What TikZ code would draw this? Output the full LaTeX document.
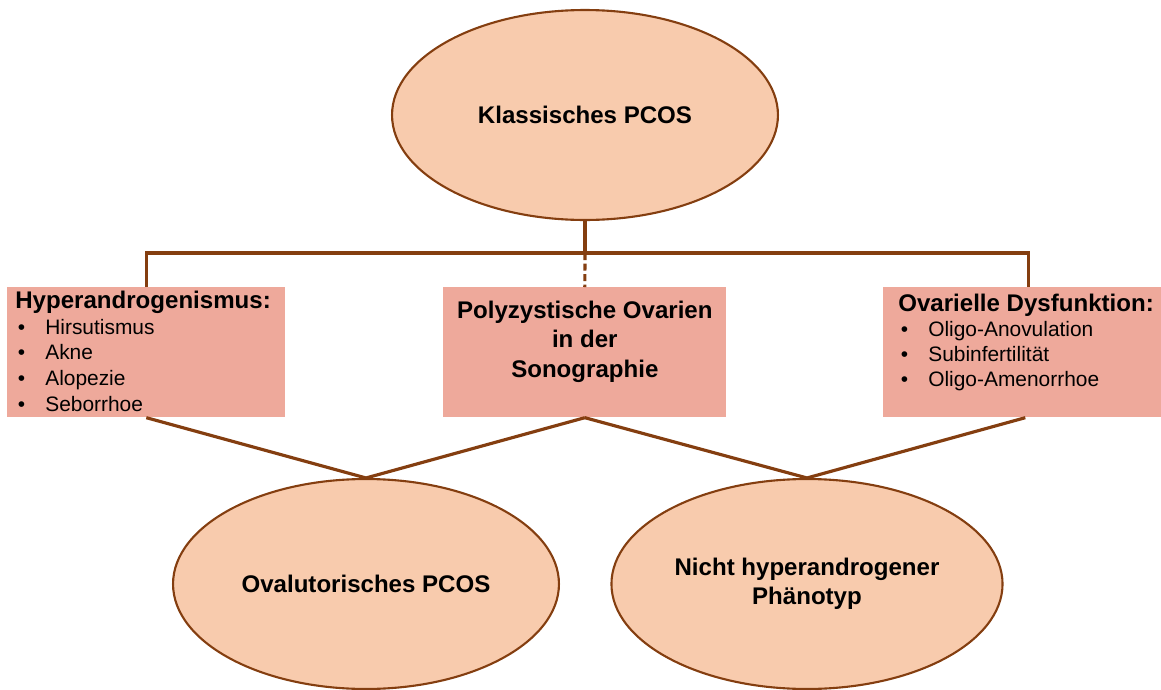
\documentclass[tikz,border=0pt]{standalone}
\usepackage{fontspec}
\setmainfont{Liberation Sans}
\usetikzlibrary{shapes.geometric}

\definecolor{linie}{RGB}{132,62,16}
\definecolor{ovalfarbe}{RGB}{248,203,173}
\definecolor{kastenfarbe}{RGB}{238,169,155}

\newcommand{\punkt}[1]{\par\hspace*{0.05cm}\makebox[0.55cm][l]{\textbullet}#1}

\begin{document}
\begin{tikzpicture}[x = 0.02cm, y = -0.02cm,
            oval/.style = {ellipse, draw = linie, line width = 1.2pt, fill = ovalfarbe,
                minimum width = 7.72cm, minimum height = 4.2cm, align = center,
                font = \fontsize{13.7}{16.7}\selectfont\bfseries},
            kasten/.style = {rectangle, fill = kastenfarbe, inner sep = 0pt, anchor = north west,
                font = \fontsize{11.9}{14.7}\selectfont},
            verbindung/.style = {draw = linie, line width = 1.8pt}]
            \useasboundingbox (0,0) rectangle (1161,690);

            \node[oval] (klassisch) at (585,115) {Klassisches PCOS};

            \node[kasten] (hyper) at (7,287) {\parbox[c][2.6cm][t]{5.56cm}{%
                \leftskip=0.16cm \baselineskip=0.515cm
                \rule{0pt}{0.42cm}{\fontsize{13.7}{16.7}\selectfont\bfseries Hyperandrogenismus:}
                \punkt{Hirsutismus}
                \punkt{Akne}
                \punkt{Alopezie}
                \punkt{Seborrhoe}}};
            \node[kasten] (poly) at (443,287) {\parbox[c][2.6cm][t]{5.66cm}{\centering
                \fontsize{13.7}{16.7}\selectfont\bfseries \baselineskip=0.59cm
                \rule{0pt}{0.62cm}Polyzystische Ovarien\\ in der\\ Sonographie}};
            \node[kasten] (ovar) at (883,287) {\parbox[c][2.6cm][t]{5.56cm}{%
                \leftskip=0.3cm \baselineskip=0.5cm
                \rule{0pt}{0.48cm}{\fontsize{13.7}{16.7}\selectfont\bfseries Ovarielle Dysfunktion:}
                \punkt{Oligo-Anovulation}
                \punkt{Subinfertilität}
                \punkt{Oligo-Amenorrhoe}}};

            \node[oval] (ovalutor) at (366,584) {Ovalutorisches PCOS};
            \node[oval, minimum width = 7.8cm] (nicht) at (807,584) {Nicht hyperandrogener\\ Phänotyp};

            \coordinate (knoten) at (585,253);
            \draw[verbindung] (klassisch.south) -- (knoten);
            \draw[verbindung] (hyper.north) |- (knoten) -| ([xshift = 0.12cm]ovar.north);
            \draw[verbindung, dash pattern = on 4pt off 2pt] (knoten) -- (poly.north);

            \draw[verbindung] (hyper.south) -- (ovalutor.north);
            \draw[verbindung] (poly.south) -- (ovalutor.north);
            \draw[verbindung] (poly.south) -- (nicht.north);
            \draw[verbindung] ([xshift = 0.06cm]ovar.south) -- (nicht.north);
        \end{tikzpicture}
\end{document}
